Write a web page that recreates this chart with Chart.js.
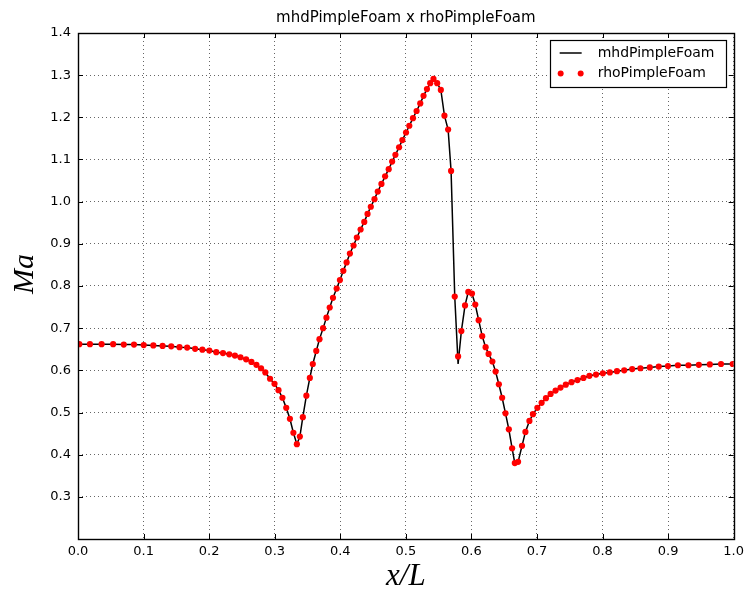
<!DOCTYPE html>
<html>
<head>
<meta charset="utf-8">
<script src="https://cdn.jsdelivr.net/npm/chart.js@4.4.1/dist/chart.umd.min.js"></script>
<style>
  body { margin: 0; background: #fff; }
  #wrap { width: 749px; height: 595px; }
</style>
</head>
<body>
<div id="wrap"><canvas id="chart" width="749" height="595"></canvas></div>
<script>
const chartTitle = "mhdPimpleFoam x rhoPimpleFoam";
const seriesNames = ["mhdPimpleFoam", "rhoPimpleFoam"];
const yLabel = "Ma";

// x/L positions of the cell centres
const xPos = [
  0.0020, 0.0182, 0.0360, 0.0536, 0.0698, 0.0854, 0.1002, 0.1149, 0.1290, 0.1422,
  0.1548, 0.1665, 0.1786, 0.1897, 0.2003, 0.2109, 0.2211, 0.2307, 0.2393, 0.2478,
  0.2564, 0.2645, 0.2721, 0.2792, 0.2857, 0.2929, 0.2997, 0.3058, 0.3118, 0.3176,
  0.3232, 0.3285, 0.3338, 0.3384, 0.3429, 0.3483, 0.3536, 0.3581, 0.3634, 0.3683,
  0.3738, 0.3789, 0.3839, 0.3889, 0.3945, 0.3995, 0.4047, 0.4097, 0.4147, 0.4203,
  0.4253, 0.4310, 0.4366, 0.4416, 0.4466, 0.4522, 0.4572, 0.4628, 0.4684, 0.4739,
  0.4791, 0.4841, 0.4897, 0.4947, 0.5003, 0.5053, 0.5109, 0.5164, 0.5220, 0.5270,
  0.5322, 0.5372, 0.5422, 0.5478, 0.5534, 0.5589, 0.5645, 0.5690, 0.5746, 0.5797,
  0.5847, 0.5903, 0.5953, 0.6009, 0.6059, 0.6111, 0.6165, 0.6217, 0.6262, 0.6320,
  0.6369, 0.6419, 0.6469, 0.6520, 0.6571, 0.6621, 0.6662, 0.6712, 0.6772, 0.6824,
  0.6885, 0.6939, 0.7006, 0.7071, 0.7137, 0.7208, 0.7284, 0.7360, 0.7440, 0.7527,
  0.7618, 0.7709, 0.7800, 0.7901, 0.8005, 0.8111, 0.8220, 0.8331, 0.8452, 0.8578,
  0.8721, 0.8857, 0.8998, 0.9150, 0.9310, 0.9469, 0.9636, 0.9807, 0.9985
];

// Mach number, rhoPimpleFoam (red dots)
const maRho = [
  0.662, 0.662, 0.662, 0.662, 0.661, 0.661, 0.660, 0.659, 0.658, 0.657,
  0.655, 0.654, 0.651, 0.649, 0.647, 0.643, 0.641, 0.638, 0.635, 0.631,
  0.626, 0.620, 0.613, 0.605, 0.595, 0.580, 0.568, 0.553, 0.535, 0.511,
  0.485, 0.452, 0.425, 0.443, 0.489, 0.540, 0.582, 0.615, 0.646, 0.674,
  0.700, 0.725, 0.749, 0.772, 0.794, 0.814, 0.836, 0.856, 0.877, 0.896,
  0.915, 0.934, 0.952, 0.971, 0.988, 1.006, 1.024, 1.042, 1.060, 1.077,
  1.095, 1.111, 1.129, 1.146, 1.164, 1.180, 1.198, 1.215, 1.233, 1.251,
  1.267, 1.281, 1.291, 1.281, 1.265, 1.204, 1.171, 1.073, 0.775, 0.633,
  0.693, 0.754, 0.786, 0.782, 0.756, 0.719, 0.681, 0.655, 0.639, 0.621,
  0.597, 0.567, 0.535, 0.498, 0.460, 0.415, 0.380, 0.383, 0.421, 0.454,
  0.480, 0.496, 0.511, 0.523, 0.534, 0.544, 0.552, 0.559, 0.566, 0.572,
  0.577, 0.582, 0.587, 0.590, 0.593, 0.595, 0.598, 0.600, 0.603, 0.605,
  0.607, 0.609, 0.610, 0.612, 0.612, 0.613, 0.614, 0.615, 0.615
];

// Mach number, mhdPimpleFoam (black line) - dips a bit lower at the shock
const maMhd = [
  0.662, 0.662, 0.662, 0.662, 0.661, 0.661, 0.660, 0.659, 0.658, 0.657,
  0.655, 0.654, 0.651, 0.649, 0.647, 0.643, 0.641, 0.638, 0.635, 0.631,
  0.626, 0.620, 0.613, 0.605, 0.595, 0.580, 0.568, 0.553, 0.535, 0.511,
  0.485, 0.452, 0.425, 0.443, 0.489, 0.540, 0.582, 0.615, 0.646, 0.674,
  0.700, 0.725, 0.749, 0.772, 0.794, 0.814, 0.836, 0.856, 0.877, 0.896,
  0.915, 0.934, 0.952, 0.971, 0.988, 1.006, 1.024, 1.042, 1.060, 1.077,
  1.095, 1.111, 1.129, 1.146, 1.164, 1.180, 1.198, 1.215, 1.233, 1.251,
  1.267, 1.281, 1.291, 1.281, 1.265, 1.204, 1.171, 1.073, 0.775, 0.615,
  0.693, 0.754, 0.786, 0.782, 0.756, 0.719, 0.681, 0.655, 0.639, 0.621,
  0.597, 0.567, 0.535, 0.498, 0.460, 0.415, 0.380, 0.383, 0.421, 0.454,
  0.480, 0.496, 0.511, 0.523, 0.534, 0.544, 0.552, 0.559, 0.566, 0.572,
  0.577, 0.582, 0.587, 0.590, 0.593, 0.595, 0.598, 0.600, 0.603, 0.605,
  0.607, 0.609, 0.610, 0.612, 0.612, 0.613, 0.614, 0.615, 0.615
];

const xTicks = [0.0, 0.1, 0.2, 0.3, 0.4, 0.5, 0.6, 0.7, 0.8, 0.9, 1.0];
const yTicks = [0.2, 0.3, 0.4, 0.5, 0.6, 0.7, 0.8, 0.9, 1.0, 1.1, 1.2, 1.3, 1.4];

const tickFont = { family: "DejaVu Sans", size: 13 };

// frame, inward ticks, title, y label and legend drawn like matplotlib
const mplBits = {
  id: "mplBits",
  afterDatasetsDraw(c) {
    const ctx = c.ctx;
    const a = c.chartArea;
    const xs = c.scales.x, ys = c.scales.y;
    ctx.save();
    ctx.strokeStyle = "#000";
    ctx.lineWidth = 1;
    ctx.beginPath();
    xTicks.forEach(v => {
      const px = Math.round(xs.getPixelForValue(v)) + 0.5;
      ctx.moveTo(px, a.bottom); ctx.lineTo(px, a.bottom - 5);
      ctx.moveTo(px, a.top); ctx.lineTo(px, a.top + 5);
    });
    yTicks.forEach(v => {
      const py = Math.round(ys.getPixelForValue(v)) + 0.5;
      ctx.moveTo(a.left, py); ctx.lineTo(a.left + 5, py);
      ctx.moveTo(a.right, py); ctx.lineTo(a.right - 5, py);
    });
    ctx.stroke();
    ctx.lineWidth = 1.4;
    ctx.strokeRect(Math.round(a.left) + 0.5, Math.round(a.top) + 0.5,
      Math.round(a.right - a.left), Math.round(a.bottom - a.top));

    // title
    ctx.fillStyle = "#000";
    ctx.font = "15px 'DejaVu Sans'";
    ctx.textAlign = "center";
    ctx.textBaseline = "middle";
    ctx.fillText(chartTitle, (a.left + a.right) / 2, 18);

    // y label
    ctx.save();
    ctx.translate(25, (a.top + a.bottom) / 2 - 12);
    ctx.rotate(-Math.PI / 2);
    ctx.font = "italic 30px 'Liberation Serif'";
    ctx.fillText(yLabel, 0, 0);
    ctx.restore();

    // legend box
    const bw = 176, bh = 47;
    const bx = a.right - 8 - bw, by = a.top + 7;
    ctx.fillStyle = "#fff";
    ctx.fillRect(bx, by, bw, bh);
    ctx.lineWidth = 1.2;
    ctx.strokeStyle = "#000";
    ctx.strokeRect(Math.round(bx) + 0.5, Math.round(by) + 0.5, bw, bh);
    const row1 = by + 13, row2 = by + 33.5;
    ctx.lineWidth = 1.5;
    ctx.beginPath();
    ctx.moveTo(bx + 10, row1); ctx.lineTo(bx + 32, row1);
    ctx.stroke();
    ctx.fillStyle = "#ff0000";
    [bx + 11, bx + 31].forEach(dx => {
      ctx.beginPath();
      ctx.arc(dx, row2, 3, 0, Math.PI * 2);
      ctx.fill();
    });
    ctx.fillStyle = "#000";
    ctx.textAlign = "left";
    ctx.font = "14px 'DejaVu Sans'";
    ctx.fillText(seriesNames[0], bx + 48, row1);
    ctx.fillText(seriesNames[1], bx + 48, row2);
    ctx.restore();
  }
};

new Chart(document.getElementById("chart"), {
  type: "scatter",
  data: {
    datasets: [
      {
        label: seriesNames[1],
        data: xPos.map((x, i) => ({ x: x, y: maRho[i] })),
        showLine: false,
        pointRadius: 3.1,
        pointBackgroundColor: "#ff0000",
        pointBorderWidth: 0,
        order: 0
      },
      {
        label: seriesNames[0],
        data: xPos.map((x, i) => ({ x: x, y: maMhd[i] })),
        showLine: true,
        borderColor: "#000",
        borderWidth: 1.5,
        pointRadius: 0,
        tension: 0,
        order: 1
      }
    ]
  },
  options: {
    responsive: false,
    animation: false,
    layout: { padding: { top: 33, right: 12, bottom: 0, left: 0 } },
    plugins: {
      legend: { display: false },
      title: { display: false },
      tooltip: { enabled: false }
    },
    scales: {
      x: {
        type: "linear",
        min: 0,
        max: 1,
        afterBuildTicks: s => { s.ticks = xTicks.map(v => ({ value: v })); },
        afterFit: s => { s.height = 56; },
        ticks: {
          color: "#000",
          font: tickFont,
          padding: 5,
          maxRotation: 0,
          autoSkip: false,
          callback: v => v.toFixed(1)
        },
        grid: { color: "rgba(0,0,0,0.6)", lineWidth: 1, drawTicks: false },
        border: { display: false, dash: [1, 3] },
        title: {
          display: true,
          text: "x/L",
          color: "#000",
          font: { family: "Liberation Serif", style: "italic", size: 31 },
          padding: { top: 0, bottom: 0 }
        }
      },
      y: {
        type: "linear",
        min: 0.2,
        max: 1.4,
        afterBuildTicks: s => { s.ticks = yTicks.map(v => ({ value: v })); },
        afterFit: s => { s.width = 78; },
        ticks: {
          color: "#000",
          font: tickFont,
          padding: 7,
          autoSkip: false,
          callback: v => (Math.abs(v - 0.2) < 1e-6 ? "" : v.toFixed(1))
        },
        grid: { color: "rgba(0,0,0,0.6)", lineWidth: 1, drawTicks: false },
        border: { display: false, dash: [1, 3] }
      }
    }
  },
  plugins: [mplBits]
});
</script>
</body>
</html>
